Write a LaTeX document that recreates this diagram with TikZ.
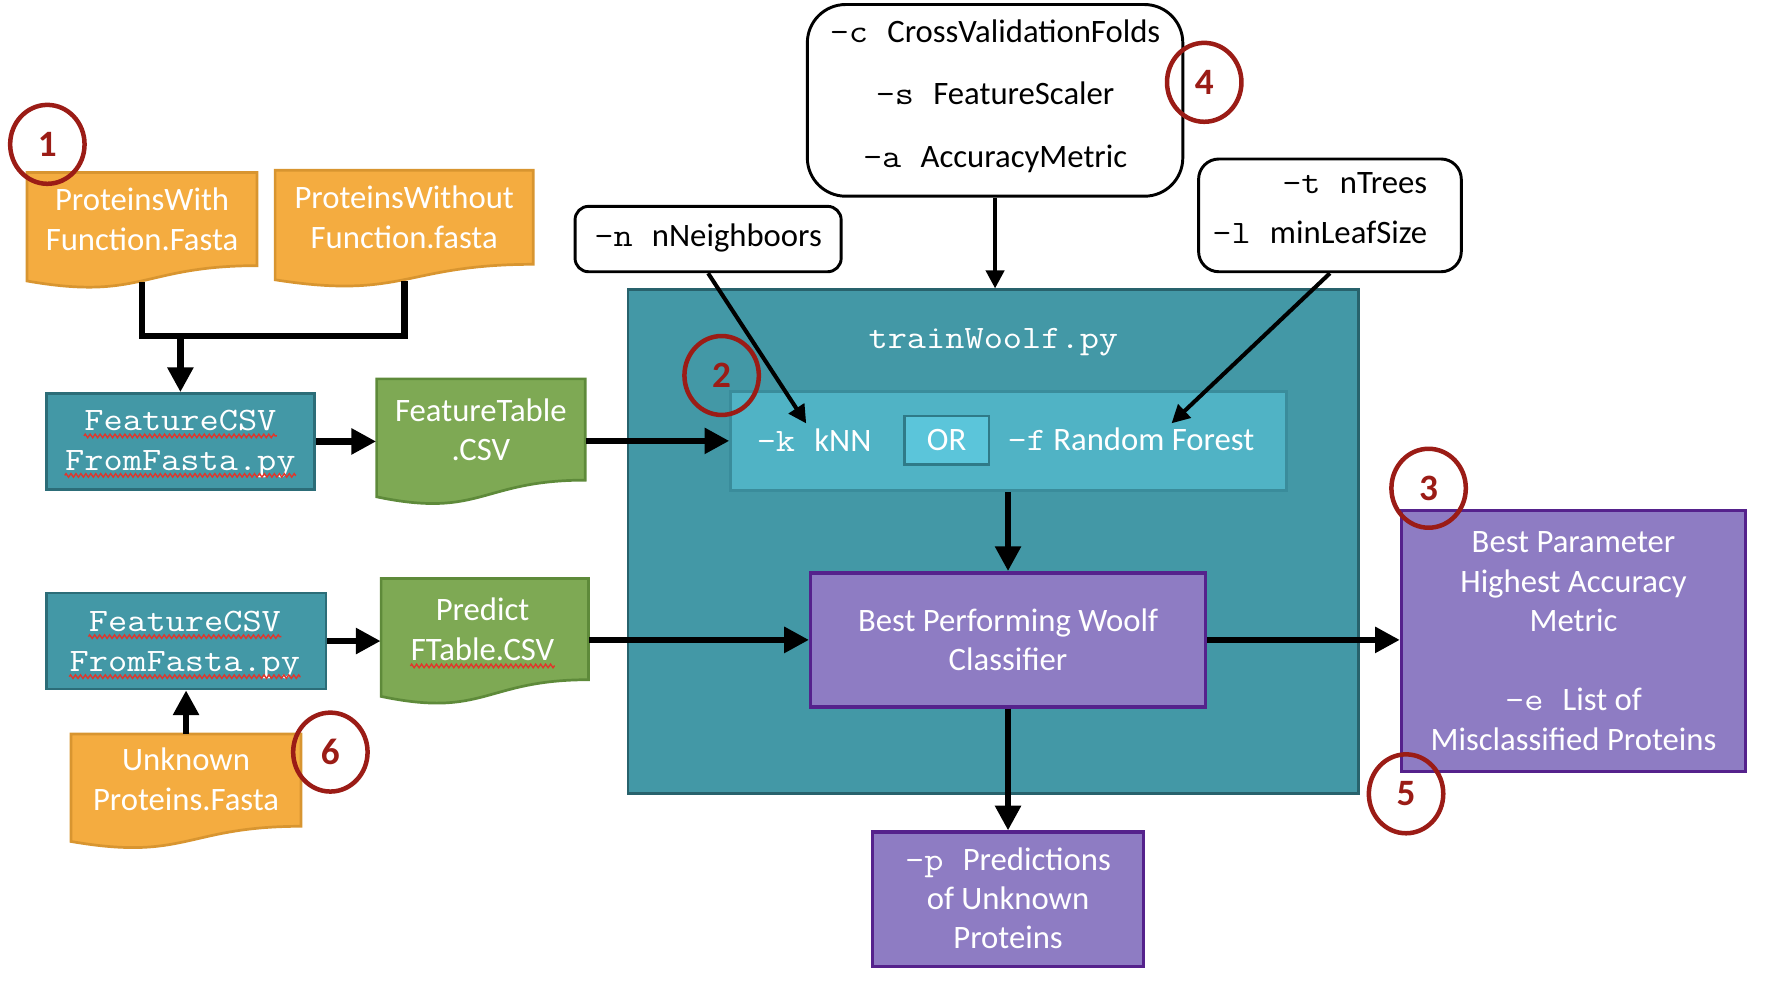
\documentclass[tikz,border=0pt]{standalone}
\usepackage{fontspec}
\setmainfont{Carlito}
\setmonofont{Latin Modern Mono}[FakeStretch=1.14]
\usetikzlibrary{arrows.meta,shapes.geometric,decorations.pathmorphing}
\definecolor{orF}{HTML}{F4AC40}
\definecolor{orD}{HTML}{D89530}
\definecolor{grF}{HTML}{7EA954}
\definecolor{grD}{HTML}{5E8A3A}
\definecolor{tlF}{HTML}{4398A6}
\definecolor{tlD}{HTML}{2C6D78}
\definecolor{inF}{HTML}{50B3C5}
\definecolor{inD}{HTML}{3A8C9B}
\definecolor{orbF}{HTML}{5BC5DA}
\definecolor{orbD}{HTML}{2F7A88}
\definecolor{puF}{HTML}{8E7CC3}
\definecolor{puD}{HTML}{55228C}
\definecolor{crc}{HTML}{9B1C16}
\definecolor{wav}{HTML}{E2352B}
\newcommand\fsz{\fontsize{14.5}{17.5}\selectfont}
\newcommand\dn[1]{\rule[-#1]{0pt}{0pt}}
% name, x, y, w, h, fill, draw, text
\newcommand\docbox[8]{%
  \path[fill=#6, draw=#7, line width=1.2pt] (#2,#3) -- ({#2+#4},#3) -- ({#2+#4},{#3+0.802*#5})
    .. controls ({#2+0.5*#4},{#3+0.802*#5}) and ({#2+0.5*#4},{#3+1.107*#5}) .. (#2,{#3+0.934*#5}) -- cycle;
  \node[doctext, minimum width={#4*0.5pt}, minimum height={#5*0.401pt}] (#1) at ({#2+0.5*#4},{#3+0.401*#5}) {#8};}
\begin{document}
\begin{tikzpicture}[x=0.5pt,y=-0.5pt,
  doctext/.style={rectangle, inner sep=0pt, align=center, text=white, font=\fsz},
  box/.style={rectangle, inner sep=0pt, align=center, text=white, line width=1.2pt, font=\fsz},
  tealbox/.style={box, fill=tlF, draw=tlD},
  purplebox/.style={box, fill=puF, draw=puD, line width=1.5pt},
  whitebox/.style={rectangle, draw=black, line width=1.3pt, fill=white, align=center, text=black, inner sep=0pt, font=\fsz},
  plaintext/.style={inner sep=2pt, text=white, font=\fsz},
  linetext/.style={inner sep=0pt, anchor=base, text=white, font=\fsz},
  squig/.style={draw=wav, line width=0.6pt, decorate, decoration={zigzag, segment length=2.2pt, amplitude=0.8pt}},
  numcirc/.style={ellipse, draw=crc, line width=2pt, minimum width=33pt, minimum height=35pt, inner sep=0pt, text=crc, font=\fontsize{16.5}{18}\selectfont\bfseries},
  plainline/.style={line width=3pt},
  thickarrow/.style={line width=3pt, -{Triangle[width=11pt,length=11pt]}},
  thinarrow/.style={line width=1.8pt, -{Triangle[width=8pt,length=8pt]}}]
\useasboundingbox (0,0) rectangle (1568,869.5);

% container
\node[tealbox, draw=tlD!90!black, minimum width=324pt, minimum height=223.5pt] (cont) at (881,480.5) {};
\node[plaintext, font=\fsz\ttfamily] (trainlbl) at (881,303) {trainWoolf.py};
\node[box, fill=inF, draw=inD, minimum width=246.5pt, minimum height=44pt] (inner) at (894.5,391) {};
\node[plaintext] (knn) at (722,390) {{\ttfamily -k }kNN};
\node[box, fill=orbF, draw=orbD, minimum width=37.5pt, minimum height=21.5pt] (orbox) at (839.5,390.5) {OR};
\node[plaintext] (rf) at (1003,390) {{\ttfamily -f} Random Forest};

% document shapes
\docbox{docA}{24}{153}{204}{103}{orF}{orD}{ProteinsWith\\Function.Fasta}
\docbox{docB}{244}{151}{229}{104}{orF}{orD}{ProteinsWithout\\Function.fasta}
\docbox{docC}{63}{651}{204}{102}{orF}{orD}{Unknown\\Proteins.Fasta\dn{1pt}}
\docbox{ftable}{334}{336}{185}{112}{grF}{grD}{FeatureTable\\.CSV}
\docbox{ptable}{338}{513}{184}{112}{grF}{grD}{}
\node[linetext] (pt1) at (428,550) {Predict};
\node[linetext] (pt2) at (428,586) {FTable.CSV};

% teal script boxes
\node[tealbox, minimum width=119pt, minimum height=42.5pt] (fcsv1) at (160,391.5) {};
\node[linetext, font=\fsz\ttfamily] (f1a) at (160,382) {FeatureCSV};
\node[linetext, font=\fsz\ttfamily] (f1b) at (160,417) {FromFasta.py};
\node[tealbox, minimum width=124pt, minimum height=42.5pt] (fcsv2) at (165,568.5) {};
\node[linetext, font=\fsz\ttfamily] (f2a) at (164,560) {FeatureCSV};
\node[linetext, font=\fsz\ttfamily] (f2b) at (164,595.5) {FromFasta.py};
\foreach \t in {pt2,f1a,f1b,f2a,f2b}
  \draw[squig] ([yshift=-2.3pt]\t.base west) -- ([yshift=-2.3pt]\t.base east);

% purple boxes
\node[purplebox, minimum width=175pt, minimum height=59.5pt] (best) at (894,567.5) {Best Performing Woolf\\Classifier};
\node[purplebox, minimum width=152.5pt, minimum height=115.5pt] (res) at (1395.5,568.5) {Best Parameter\\Highest Accuracy\\Metric\\[17.5pt]{\ttfamily -e }List of\\Misclassified Proteins};
\node[purplebox, minimum width=120pt, minimum height=59.5pt] (pred) at (894,797.5) {{\ttfamily -p }Predictions\\of Unknown\\Proteins\dn{1pt}};

% white option boxes
\node[whitebox, rounded corners=6pt, minimum width=118pt, minimum height=29pt] (nn) at (628,212) {{\ttfamily -n }nNeighboors\dn{3.9pt}};
\node[whitebox, rounded corners=17pt, minimum width=166.5pt, minimum height=85pt] (top) at (882.5,89) {{\ttfamily -c }CrossValidationFolds\\[10.25pt]{\ttfamily -s }FeatureScaler\\[10.25pt]{\ttfamily -a }AccuracyMetric\dn{6pt}};
\node[whitebox, rounded corners=9pt, minimum width=116.5pt, minimum height=50pt, align=right] (nt) at (1179.5,191) {{\ttfamily -t }nTrees\hspace*{9pt}\\[5pt]{\ttfamily -l }minLeafSize\hspace*{9pt}\dn{6.5pt}};

% connectors
\coordinate (jn) at (160,298);
\draw[plainline, line join=miter] ([yshift=-7pt]docA.south) |- (jn) -| ([yshift=-7pt]docB.south);
\draw[thickarrow] (jn) -- (jn |- fcsv1.north);
\draw[thickarrow] (fcsv1.east) -- (fcsv1.east -| ftable.west);
\draw[thickarrow] (ftable.east |- inner.west) -- (inner.west);
\draw[thickarrow] (docC.north) -- (docC.north |- fcsv2.south);
\draw[thickarrow] (fcsv2.east) -- (fcsv2.east -| ptable.west);
\draw[thickarrow] (ptable.east |- best.west) -- (best.west);
\draw[thickarrow] (best.east) -- (best.east -| res.west);
\draw[thickarrow] (best.south) -- (pred.north);
\draw[thickarrow] (inner.south -| best.north) -- (best.north);
\draw[thinarrow] (top.south) -- (top.south |- cont.north);
\draw[thinarrow] (nn.south) -- ([xshift=-3.5pt]knn.north);
\draw[thinarrow] (nt.south) -- ([xshift=18pt]rf.north);

% numbered circles
\node[numcirc] (c1) at (42,128) {1};
\node[numcirc] (c2) at (640,333) {2};
\node[numcirc] (c3) at (1267,433) {3};
\node[numcirc] (c4) at (1068,73) {4};
\node[numcirc] (c5) at (1247,704) {5};
\node[numcirc] (c6) at (293,667) {6};
\end{tikzpicture}
\end{document}
